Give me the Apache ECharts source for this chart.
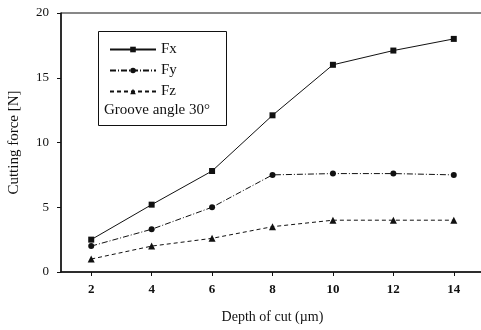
<!DOCTYPE html>
<html>
<head>
<meta charset="utf-8">
<script src="https://cdn.jsdelivr.net/npm/echarts@6/dist/echarts.min.js"></script>
<style>
	html, body { margin: 0; padding: 0; background: #fff; }
	#chart { width: 481px; height: 330px; }
</style>
</head>
<body>
<div id="chart"></div>
<script>
const depths = [ 2, 4, 6, 8, 10, 12, 14 ];
const fxValues = [ 2.5, 5.2, 7.8, 12.1, 16.0, 17.1, 18.0 ];
const fyValues = [ 2.0, 3.3, 5.0, 7.5, 7.6, 7.6, 7.5 ];
const fzValues = [ 1.0, 2.0, 2.6, 3.5, 4.0, 4.0, 4.0 ];
const xTicks = [ 2, 4, 6, 8, 10, 12, 14 ];
const seriesNames = [ 'Fx', 'Fy', 'Fz' ];
const noteText = 'Groove angle 30°';

const font = '"Liberation Serif", "Times New Roman", serif';

function pairs( values ) {
	return depths.map( ( d, i ) => [ d, values[ i ] ] );
}

function makeSeries( name, values, symbol, size, dash ) {
	return {
		name: name,
		type: 'line',
		data: pairs( values ),
		symbol: symbol,
		symbolSize: size,
		itemStyle: { color: '#111' },
		lineStyle: { color: '#111', width: 1, type: dash },
		emphasis: { disabled: true }
	};
}

const chart = echarts.init( document.getElementById( 'chart' ) );

chart.setOption( {
	animation: false,
	backgroundColor: '#fff',
	grid: {
		left: 61,
		top: 13,
		width: 423,
		height: 259,
		show: true,
		borderColor: '#111',
		borderWidth: 1,
		containLabel: false,
		outerBoundsMode: 'none'
	},
	xAxis: {
		type: 'value',
		min: 1,
		max: 15,
		interval: 1,
		name: 'Depth of cut (\u00b5m)',
		nameLocation: 'middle',
		nameGap: 38,
		nameTextStyle: { fontFamily: font, fontSize: 14, color: '#111' },
		axisLine: { lineStyle: { color: '#111', width: 1.5 } },
		axisTick: { customValues: xTicks, length: 4, lineStyle: { color: '#111' } },
		axisLabel: {
			customValues: xTicks,
			fontFamily: font,
			fontSize: 13,
			fontWeight: 'bold',
			color: '#111',
			margin: 11
		},
		splitLine: { show: false }
	},
	yAxis: {
		type: 'value',
		min: 0,
		max: 20,
		interval: 5,
		name: 'Cutting force [N]',
		nameLocation: 'middle',
		nameGap: 39,
		nameTextStyle: { fontFamily: font, fontSize: 15, color: '#111' },
		axisLine: { lineStyle: { color: '#111', width: 1.5 } },
		axisTick: { length: 4, lineStyle: { color: '#111' } },
		axisLabel: { fontFamily: font, fontSize: 13, color: '#111', margin: 12 },
		splitLine: { show: false }
	},
	legend: {
		data: seriesNames,
		orient: 'vertical',
		left: 104,
		top: 37,
		itemWidth: 46,
		itemHeight: 7,
		itemGap: 6,
		textStyle: { fontFamily: font, fontSize: 15, color: '#111' },
		selectedMode: false
	},
	graphic: [
		{
			type: 'rect',
			left: 98,
			top: 31,
			shape: { width: 128, height: 94 },
			style: { fill: '#fff', stroke: '#111', lineWidth: 1 },
			z: 1
		},
		{
			type: 'text',
			left: 104,
			top: 103,
			style: { text: noteText, font: '15px ' + font, fill: '#111' },
			z: 10
		}
	],
	series: [
		makeSeries( seriesNames[ 0 ], fxValues, 'rect', 6, 'solid' ),
		makeSeries( seriesNames[ 1 ], fyValues, 'circle', 6, [ 6, 2, 1, 2 ] ),
		makeSeries( seriesNames[ 2 ], fzValues, 'triangle', 7, [ 4, 3 ] )
	]
} );
</script>
</body>
</html>
